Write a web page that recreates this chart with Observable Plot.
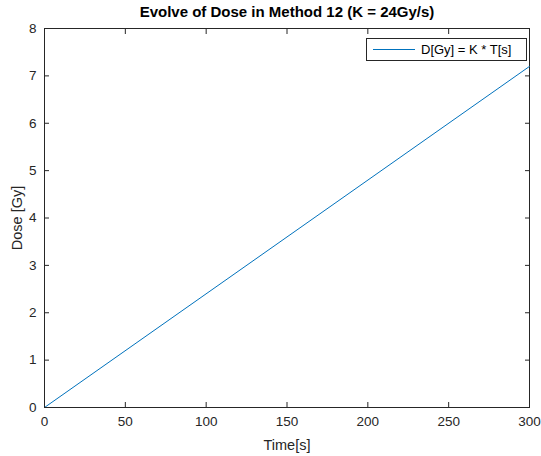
<!DOCTYPE html>
<html>
<head>
<meta charset="utf-8">
<script src="https://cdn.jsdelivr.net/npm/d3@7"></script>
<script src="https://cdn.jsdelivr.net/npm/@observablehq/plot@0.6"></script>
<style>
  html, body { margin: 0; padding: 0; background: #fff; }
  #wrap { position: relative; width: 541px; height: 456px; font-family: "Liberation Sans", Arial, sans-serif; }
  #legend { position: absolute; left: 366px; top: 38px; width: 161px; height: 23px; border: 1px solid #262626; background: #fff; box-sizing: border-box; display: flex; align-items: center; font-size: 13px; color: #000; }
  #legend .sw { width: 42px; height: 0; border-top: 1px solid #0072BD; margin-left: 6px; margin-right: 6px; }
</style>
</head>
<body>
<div id="wrap"></div>
<script>
const titleText = "Evolve of Dose in Method 12 (K = 24Gy/s)";
const xLabel = "Time[s]";
const yLabel = "Dose [Gy]";
const legendLabel = "D[Gy] = K * T[s]";
const timeValues = [0, 300];
const doseValues = [0, 7.2];
const xTicks = [0, 50, 100, 150, 200, 250, 300];
const yTicks = [0, 1, 2, 3, 4, 5, 6, 7, 8];

const data = timeValues.map((t, i) => ({t, d: doseValues[i]}));
const axisColor = "#262626";
const blank = () => "";

const chart = Plot.plot({
  width: 541,
  height: 456,
  marginLeft: 44,
  marginRight: 12,
  marginTop: 28,
  marginBottom: 49,
  style: {fontFamily: "'Liberation Sans', Arial, sans-serif", fontSize: "13px", color: axisColor, background: "#fff"},
  x: {domain: [0, 300]},
  y: {domain: [0, 8]},
  marks: [
    Plot.frame({stroke: axisColor, strokeWidth: 1}),
    Plot.line(data, {x: "t", y: "d", stroke: "#0072BD", strokeWidth: 1}),
    Plot.axisX(xTicks, {anchor: "bottom", tickSize: -5, tickPadding: 14, stroke: axisColor, label: xLabel, labelAnchor: "center", labelArrow: "none", labelOffset: 42, fontSize: 13.5}),
    Plot.axisX(xTicks, {anchor: "top", tickSize: -5, tickFormat: blank, stroke: axisColor, label: null}),
    Plot.axisY(yTicks, {anchor: "left", tickSize: -5, tickPadding: 13, stroke: axisColor, label: yLabel, labelAnchor: "center", labelArrow: "none", labelOffset: 33, fontSize: 13.5}),
    Plot.axisY(yTicks, {anchor: "right", tickSize: -5, tickFormat: blank, stroke: axisColor, label: null}),
    Plot.text([titleText], {frameAnchor: "top", dy: -12, lineAnchor: "bottom", fontWeight: "bold", fontSize: 15, fill: "#000"})
  ]
});
const wrap = document.getElementById("wrap");
wrap.appendChild(chart);
d3.select(chart).selectAll("[aria-label='x-axis label'] text, [aria-label='y-axis label'] text").style("font-size", "14.5px");
const leg = document.createElement("div");
leg.id = "legend";
leg.innerHTML = `<span class="sw"></span><span>${legendLabel}</span>`;
wrap.appendChild(leg);
</script>
</body>
</html>
